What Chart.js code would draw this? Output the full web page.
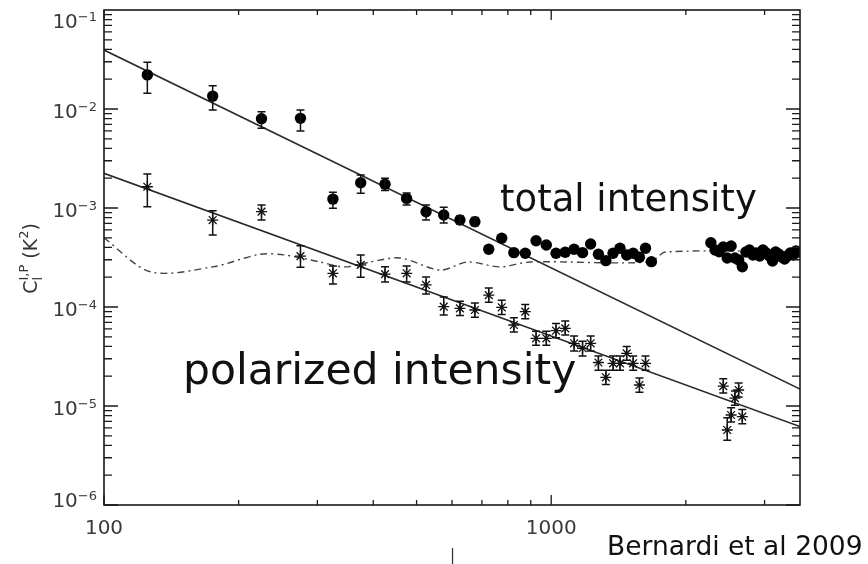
<!DOCTYPE html>
<html><head><meta charset="utf-8">
<script src="https://cdn.jsdelivr.net/npm/chart.js@4/dist/chart.umd.min.js"></script>
<style>html,body{margin:0;padding:0;background:#fff;}#wrap{width:868px;height:564px;}</style>
</head><body><div id="wrap"><canvas id="c" width="868" height="564"></canvas></div>
<script>
// ---- data ----
const totalL = [125,175,225,275,325,375,425,475,525,575,625,675,725,775,825,875,925,975,1025,1075,1125,1175,1225,1275,1325,1375,1425,1475,1525,1575,1625,1675,
  2275,2325,2375,2425,2475,2525,2575,2625,2675,2725,2775,2825,2875,2925,2975,3025,3075,3125,3175,3225,3275,3325,3375,3425,3475,3525,3575];
const totalC = [0.0221,0.0135,0.00798,0.00805,0.00123,0.0018,0.00174,0.00125,0.000918,0.00085,0.000756,0.000727,
  0.000383,0.000494,0.000354,0.000349,0.000467,0.000423,0.000349,0.000357,0.000383,0.000354,0.000433,0.000341,0.000294,0.000349,0.000392,0.000335,0.000349,0.000318,0.000392,0.000287,
  0.000446,0.000376,0.000361,0.000404,0.000313,0.000413,0.000313,0.000298,0.000255,0.000359,0.000376,0.000335,0.000351,0.000327,0.000376,0.000351,0.000327,0.000291,0.000359,0.000343,0.00032,0.000305,0.000327,0.000351,0.000335,0.000368,0.000359];
const totalErrL  = [125,175,225,275,325,375,425,475,525,575,625,675];
const totalErrLo = [0.0144,0.00977,0.00638,0.00599,0.000993,0.00141,0.0015,0.00107,0.000756,0.000706,0.00069,0.00066];
const totalErrHi = [0.0296,0.0172,0.00939,0.00977,0.00144,0.00215,0.0020,0.00142,0.00107,0.00102,0.00083,0.0008];

const polL = [125,175,225,275,325,375,425,475,525,575,625,675,725,775,825,875,925,975,1025,1075,1125,1175,1225,1275,1325,1375,1425,1475,1525,1575,1625,
  2425,2475,2525,2575,2625,2675];
const polC = [0.00164,0.000756,0.000918,0.000327,0.000219,0.000266,0.000215,0.000219,0.000167,0.000101,9.7e-5,9.33e-5,0.000132,9.93e-5,6.58e-5,8.97e-5,4.83e-5,4.83e-5,5.76e-5,6.09e-5,
  4.3e-5,3.83e-5,4.3e-5,2.75e-5,1.95e-5,2.7e-5,2.7e-5,3.4e-5,2.7e-5,1.63e-5,2.7e-5,
  1.59e-5,5.72e-6,8.11e-6,1.2e-5,1.45e-5,7.8e-6];
const polLo = [0.00103,0.000534,0.000756,0.000252,0.000171,0.0002,0.000179,0.000179,0.000135,8.3e-5,8.2e-5,7.9e-5,0.000112,8.4e-5,5.6e-5,7.6e-5,4.1e-5,4.1e-5,4.9e-5,5.2e-5,
  3.6e-5,3.2e-5,3.6e-5,2.3e-5,1.65e-5,2.3e-5,2.3e-5,2.9e-5,2.3e-5,1.38e-5,2.3e-5,
  1.35e-5,4.5e-6,6.9e-6,1.02e-5,1.23e-5,6.6e-6];
const polHi = [0.0022,0.00094,0.00107,0.000416,0.00026,0.000335,0.000255,0.00026,0.000201,0.000126,0.000114,0.00011,0.000156,0.000117,7.8e-5,0.000106,5.7e-5,5.7e-5,6.8e-5,7.2e-5,
  5.1e-5,4.5e-5,5.1e-5,3.2e-5,2.3e-5,3.2e-5,3.2e-5,4.0e-5,3.2e-5,1.92e-5,3.2e-5,
  1.88e-5,7.6e-6,9.6e-6,1.42e-5,1.71e-5,9.2e-6];

const fitL = [100, 3600];
const totalFit = [0.0394, 1.48e-5];
const polFit = [0.00224, 6.2e-6];

const noiseL = [100,127,175,223,254,304,346,394,459,565,649,769,897,1666,1799,3600];
const noiseC = [5.0e-4,2.27e-4,2.54e-4,3.41e-4,3.35e-4,2.85e-4,2.54e-4,2.85e-4,3.13e-4,2.36e-4,2.85e-4,2.54e-4,2.85e-4,2.85e-4,3.59e-4,3.59e-4];

const yTickValues = [1e-6,1e-5,1e-4,1e-3,1e-2,1e-1];
const yTickBase = '10';
const yTickExps = ['−6','−5','−4','−3','−2','−1'];
const xTickValues = [100, 1000];
const xTickLabels = ['100','1000'];

// ---- plugins ----
const pts = (xs, ys) => xs.map((v,i)=>({x:v, y:ys[i]}));

const errPlugin = {
  id:'errbars',
  afterDatasetsDraw(chart){
    const {ctx, scales:{x,y}} = chart;
    const sets = [
      {l:totalErrL, lo:totalErrLo, hi:totalErrHi, cap:4},
      {l:polL, lo:polLo, hi:polHi, cap:4}
    ];
    ctx.save();
    ctx.strokeStyle='#111'; ctx.lineWidth=1.5;
    sets.forEach(s=>{
      s.l.forEach((l,i)=>{
        const px=x.getPixelForValue(l), y1=y.getPixelForValue(s.lo[i]), y2=y.getPixelForValue(s.hi[i]);
        ctx.beginPath();
        ctx.moveTo(px,y1); ctx.lineTo(px,y2);
        ctx.moveTo(px-s.cap,y1); ctx.lineTo(px+s.cap,y1);
        ctx.moveTo(px-s.cap,y2); ctx.lineTo(px+s.cap,y2);
        ctx.stroke();
      });
    });
    ctx.restore();
  }
};

const framePlugin = {
  id:'frame',
  afterDraw(chart){
    const {ctx, chartArea:a, scales:{x,y}} = chart;
    ctx.save();
    ctx.strokeStyle='#1a1a1a'; ctx.lineWidth=1.6;
    ctx.strokeRect(a.left, a.top, a.right-a.left, a.bottom-a.top);
    ctx.lineWidth=1.3;
    ctx.beginPath();
    for(let e=-6;e<=-2;e++){
      for(let m=1;m<=9;m++){
        const v=m*Math.pow(10,e);
        const py=y.getPixelForValue(v);
        const len = m===1?14:8;
        ctx.moveTo(a.left,py); ctx.lineTo(a.left+len,py);
        ctx.moveTo(a.right,py); ctx.lineTo(a.right-len,py);
      }
    }
    for(let e=2;e<=3;e++){
      for(let m=1;m<=9;m++){
        const v=m*Math.pow(10,e);
        if(v>3600) break;
        const px=x.getPixelForValue(v);
        const len = m===1?10:5;
        ctx.moveTo(px,a.bottom); ctx.lineTo(px,a.bottom-len);
        ctx.moveTo(px,a.top); ctx.lineTo(px,a.top+len);
      }
    }
    ctx.stroke();

    // y tick labels with superscript exponents
    ctx.fillStyle='#3a3a3a';
    ctx.textBaseline='alphabetic';
    yTickValues.forEach((v,i)=>{
      let cy = y.getPixelForValue(v)+2;
      cy = Math.min(Math.max(cy, 20.5), 499.5);
      ctx.font='13px "DejaVu Sans"';
      const ew = ctx.measureText(yTickExps[i]).width;
      const right = 97;
      ctx.fillText(yTickExps[i], right-ew, cy+7.3-7);
      ctx.font='20px "DejaVu Sans"';
      const bw = ctx.measureText(yTickBase).width;
      ctx.fillText(yTickBase, right-ew-bw, cy+7.3);
    });

    // y axis title with sub/superscripts
    ctx.fillStyle='#333';
    ctx.translate(37, 258.5);
    ctx.rotate(-Math.PI/2);
    const parts=[['C',19,0],['l',13,5],['I,P',13,-9],[' (K',19,0],['2',13,-9],[')',19,0]];
    const widths = parts.map(p=>{ctx.font=p[1]+'px "DejaVu Sans"'; return ctx.measureText(p[0]).width;});
    const starts=[]; let cx=0;
    parts.forEach((p,i)=>{
      if(i===2){ starts.push(starts[1]); cx=Math.max(starts[1]+widths[1], starts[1]+widths[2]); return; }
      starts.push(cx); cx+=widths[i];
    });
    const total=cx;
    parts.forEach((p,i)=>{
      ctx.font=p[1]+'px "DejaVu Sans"';
      ctx.fillText(p[0], starts[i]-total/2, p[2]);
    });
    ctx.restore();

    // annotations
    ctx.save();
    ctx.fillStyle='#111';
    ctx.textBaseline='alphabetic';
    ctx.font='37px "DejaVu Sans"';
    ctx.fillText('total intensity', 500, 211);
    ctx.font='42.5px "DejaVu Sans"';
    ctx.fillText('polarized intensity', 183, 384);
    ctx.font='26.5px "DejaVu Sans"';
    ctx.fillText('Bernardi et al 2009', 607, 555);
    ctx.fillStyle='#333';
    ctx.font='15px "DejaVu Sans"';
    ctx.fillText('|', 450, 560);
    ctx.restore();
  }
};

new Chart(document.getElementById('c'), {
  type:'scatter',
  data:{datasets:[
    {data:pts(fitL,totalFit), showLine:true, borderColor:'#2a2a2a', borderWidth:1.6, pointRadius:0, order:3},
    {data:pts(fitL,polFit), showLine:true, borderColor:'#2a2a2a', borderWidth:1.6, pointRadius:0, order:3},
    {data:pts(noiseL,noiseC), showLine:true, borderColor:'#444', borderWidth:1.4, borderDash:[7,4,2,4], pointRadius:0, tension:0.3, order:4},
    {data:pts(totalL,totalC), pointStyle:'circle', pointRadius:5.7, backgroundColor:'#000', borderColor:'#000', borderWidth:0, order:1},
    {data:pts(polL,polC), pointStyle:'star', pointRadius:5.5, backgroundColor:'#000', borderColor:'#111', borderWidth:1.3, order:2}
  ]},
  options:{
    responsive:false, animation:false, devicePixelRatio:1,
    layout:{padding:{left:0,right:68,top:10,bottom:0}},
    plugins:{legend:{display:false}, tooltip:{enabled:false}},
    scales:{
      x:{type:'logarithmic', min:100, max:3600,
        grid:{display:false, drawTicks:false}, border:{display:false},
        afterBuildTicks:s=>{s.ticks=xTickValues.map(v=>({value:v, major:true}));},
        afterFit:s=>{s.height=59;},
        ticks:{autoSkip:false, maxRotation:0, padding:12, color:'#3a3a3a', font:{family:'DejaVu Sans', size:20},
          callback:(v)=>{const i=xTickValues.indexOf(v); return i>=0?xTickLabels[i]:'';}}
      },
      y:{type:'logarithmic', min:1e-6, max:1e-1,
        grid:{display:false, drawTicks:false}, border:{display:false},
        afterBuildTicks:s=>{s.ticks=yTickValues.map(v=>({value:v, major:true}));},
        afterFit:s=>{s.width=104;},
        ticks:{display:false}
      }
    }
  },
  plugins:[errPlugin, framePlugin]
});
</script>
</body></html>
